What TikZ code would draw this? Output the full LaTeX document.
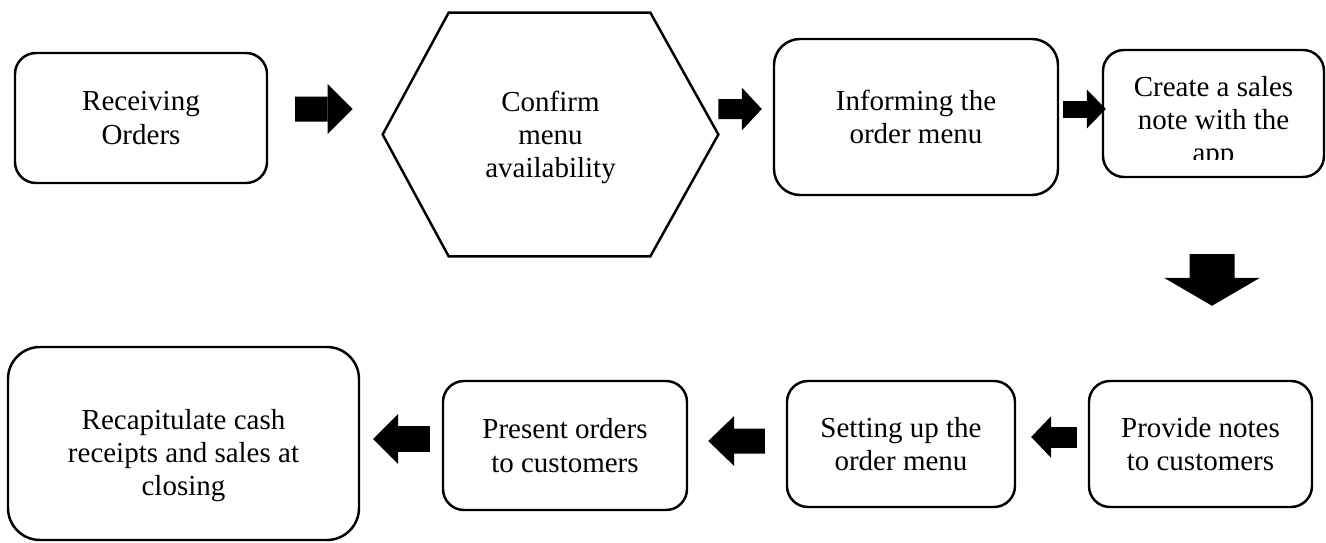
\documentclass[tikz,border=0pt]{standalone}
\usepackage{fontspec}
\setmainfont{Liberation Serif}
\usetikzlibrary{arrows.meta}
\tikzset{
    procbox/.style = {draw=black, line width=1.4pt, rounded corners=0.42cm, align=center, inner sep=0pt, font=\fontsize{16.5}{19}\selectfont},
    proctext/.style = {align=center, inner sep=0pt, font=\fontsize{16.5}{19}\selectfont},
    fatarrow/.style n args = {3}{line width=#1, -{Triangle[length=#2, width=#3, line width=0pt]}}
}
\begin{document}
\begin{tikzpicture}[color = {black}]
    \useasboundingbox (0,0) rectangle (26.52,10.84);
    \node[procbox, minimum width=5.04cm, minimum height=2.60cm] (recv) at (2.82,8.48) {Receiving\\Orders};
    \node[proctext, minimum width=6.70cm, minimum height=4.86cm] (hex) at (11.01,8.15) {};
    \node[proctext] (hextxt) at ([yshift=-0.06cm]hex.center) {Confirm\\menu\\availability};
    \draw[line width=1.4pt, line join=miter] (hex.west) -- ([xshift=1.32cm]hex.north west) -- ([xshift=-1.36cm]hex.north east) -- (hex.east) -- ([xshift=-1.36cm]hex.south east) -- ([xshift=1.32cm]hex.south west) -- cycle;
    \node[procbox, rounded corners=0.52cm, minimum width=5.68cm, minimum height=3.12cm] (info) at (18.32,8.50) {Informing the\\order menu};
    \node[procbox, minimum width=4.42cm, minimum height=2.54cm] (create) at (24.27,8.57) {};
    \begin{scope}
        \clip (create.north west) rectangle ([yshift=0.38cm]create.south east);
        \node[proctext] (createtxt) at ([yshift=-0.18cm]create.center) {Create a sales\\note with the\\app};
    \end{scope}
    \node[procbox, rounded corners=0.64cm, minimum width=7.02cm, minimum height=3.86cm] (recap) at (3.67,1.97) {};
    \node[proctext] (recaptxt) at ([yshift=-0.24cm]recap.center) {Recapitulate cash\\receipts and sales at\\closing};
    \node[procbox, minimum width=4.88cm, minimum height=2.58cm] (pres) at (11.30,1.93) {Present orders\\to customers};
    \node[procbox, minimum width=4.56cm, minimum height=2.52cm] (setup) at (18.02,1.96) {Setting up the\\order menu};
    \node[procbox, minimum width=4.46cm, minimum height=2.52cm] (prov) at (24.01,1.96) {Provide notes\\to customers};
    \draw[fatarrow={0.5cm}{0.5cm}{1.0cm}] ([shift={(0.54,0.18)}]recv.east) -- ([shift={(-0.6,0.51)}]hex.west);
    \draw[fatarrow={0.4cm}{0.4cm}{0.86cm}] ([shift={(0,0.51)}]hex.east) -- ([shift={(-0.22,0.16)}]info.west);
    \draw[fatarrow={0.34cm}{0.38cm}{0.78cm}] ([shift={(0.08,0.16)}]info.east) -- ([shift={(0.08,0.09)}]create.west);
    \draw[fatarrow={0.9cm}{0.56cm}{1.92cm}] ([shift={(-0.03,-1.52)}]create.south) -- ([shift={(0.23,1.48)}]prov.north);
    \draw[fatarrow={0.42cm}{0.4cm}{0.84cm}] ([shift={(-0.22,0.14)}]prov.west) -- ([shift={(0.3,0.14)}]setup.east);
    \draw[fatarrow={0.5cm}{0.52cm}{1.0cm}] ([shift={(-0.42,0.06)}]setup.west) -- ([shift={(0.4,0.09)}]pres.east);
    \draw[fatarrow={0.52cm}{0.5cm}{1.0cm}] ([shift={(-0.24,0.13)}]pres.west) -- ([shift={(0.26,0.09)}]recap.east);
\end{tikzpicture}
\end{document}
